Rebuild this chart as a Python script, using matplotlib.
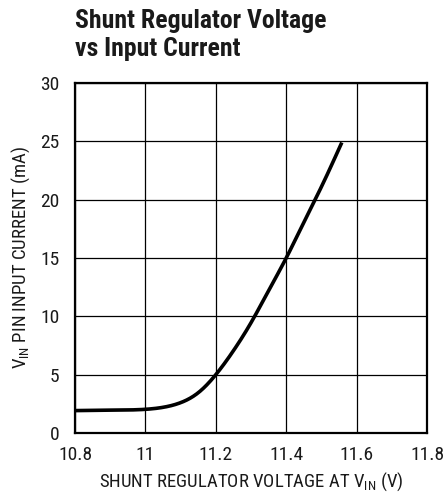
import numpy as np
import matplotlib
matplotlib.use("Agg")
import matplotlib.pyplot as plt

plt.rcParams["font.family"] = ["Roboto Condensed", "Liberation Sans", "DejaVu Sans"]
plt.rcParams["mathtext.fontset"] = "custom"
plt.rcParams["mathtext.rm"] = "Roboto Condensed"

# curve
voltage = [10.80, 10.90, 11.00, 11.05, 11.10, 11.15, 11.20, 11.25, 11.30, 11.35, 11.40, 11.45, 11.50, 11.558]
current = [1.92, 1.96, 2.03, 2.20, 2.60, 3.45, 5.00, 7.05, 9.45, 12.20, 15.00, 18.05, 21.10, 24.90]

x_ticks = [10.8, 11.0, 11.2, 11.4, 11.6, 11.8]
x_labels = ["10.8", "11", "11.2", "11.4", "11.6", "11.8"]
y_ticks = [0, 5, 10, 15, 20, 25, 30]

# natural cubic spline through the read points, just to draw a smooth line
def spline(x, y, xs):
    x = np.asarray(x); y = np.asarray(y)
    n = len(x); h = np.diff(x)
    A = np.zeros((n, n)); b = np.zeros(n)
    A[0, 0] = A[-1, -1] = 1
    for i in range(1, n - 1):
        A[i, i-1] = h[i-1]; A[i, i] = 2*(h[i-1] + h[i]); A[i, i+1] = h[i]
        b[i] = 6*((y[i+1] - y[i])/h[i] - (y[i] - y[i-1])/h[i-1])
    M = np.linalg.solve(A, b)
    k = np.clip(np.searchsorted(x, xs) - 1, 0, n - 2)
    t0 = x[k+1] - xs; t1 = xs - x[k]
    return (M[k]*t0**3 + M[k+1]*t1**3)/(6*h[k]) + (y[k]/h[k] - M[k]*h[k]/6)*t0 \
        + (y[k+1]/h[k] - M[k+1]*h[k]/6)*t1

vs = np.linspace(voltage[0], voltage[-1], 400)
cs = spline(voltage, current, vs)

fig = plt.figure(figsize=(4.45, 4.94), dpi=100)
ax = fig.add_axes([75/445, 1 - 433/494, 352/445, 350/494])

ax.plot(vs, cs, color="black", linewidth=2.6, solid_capstyle="butt")

ax.set_xlim(10.8, 11.8)
ax.set_ylim(0, 30)
ax.set_xticks(x_ticks)
ax.set_xticklabels(x_labels)
ax.set_yticks(y_ticks)
ax.tick_params(length=0, labelsize=14, colors="#1a1a1a")
ax.tick_params(axis="x", pad=9)
ax.tick_params(axis="y", pad=11)
ax.grid(True, color="black", linewidth=0.9)
for s in ax.spines.values():
    s.set_linewidth(1.6)

ax.set_xlabel("SHUNT REGULATOR VOLTAGE AT V$_{\\mathregular{IN}}$ (V)", fontsize=13.5, labelpad=5,
              color="#1a1a1a")
ax.set_ylabel("V$_{\\mathregular{IN}}$ PIN INPUT CURRENT (mA)", fontsize=13.5, labelpad=6,
              color="#1a1a1a")

fig.text(75/445, 1 - 9/494, "Shunt Regulator Voltage\nvs Input Current",
         fontsize=18.5, fontweight="bold", ha="left", va="top", linespacing=1.2, color="#1a1a1a")

plt.savefig("out.png", dpi=100)
